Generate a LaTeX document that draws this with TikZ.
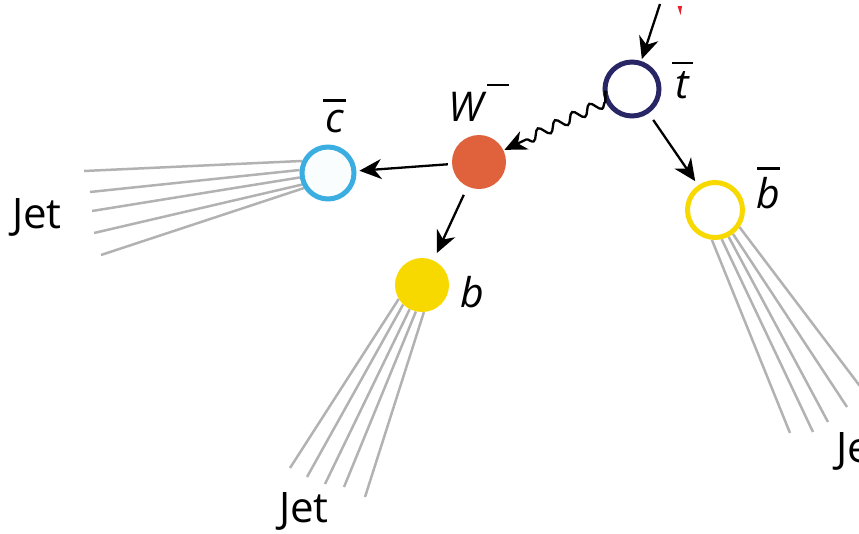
\documentclass[tikz,border=0pt]{standalone}
\usepackage{fontspec}
\setmainfont{Open Sans}
\usetikzlibrary{arrows.meta,decorations.pathmorphing}
\pgfdeclarelayer{bg}
\pgfsetlayers{bg,main}

\definecolor{tquark}{RGB}{40,38,100}
\definecolor{wboson}{RGB}{224,98,60}
\definecolor{cquark}{RGB}{58,174,224}
\definecolor{bquark}{RGB}{247,217,0}
\definecolor{jetgrey}{RGB}{178,178,178}
\definecolor{tipred}{RGB}{232,32,44}

% letter with a bar over it: #1 raise, #2 shift, #3 bar width, #4 letter
\newcommand\barred[4]{\makebox[0pt][l]{\hspace*{#2}\raisebox{#1}{\rule{#3}{2.5pt}}}#4}

\tikzset{
  ringnode/.style={circle, minimum size=#1, inner sep=0pt, line width=5pt, fill=white},
  blob/.style={circle, minimum size=#1, inner sep=0pt},
  lbl/.style={inner sep=0pt, anchor=base west, font=\fontsize{41}{44}\selectfont\itshape},
  jetlbl/.style={inner sep=0pt, anchor=base west, font=\fontsize{42}{46}\selectfont},
  tip/.style={-{Stealth[length=22pt, width=20pt, inset=7pt]}},
  arr/.style={line width=2.3pt, tip},
  wave/.style={line width=2.3pt, decorate,
    decoration={snake, amplitude=5pt, segment length=19pt, post length=16pt}, tip},
  jet/.style={draw=jetgrey, line width=2.5pt}
}

\begin{document}
\begin{tikzpicture}[x=1pt, y=-1pt]
  \useasboundingbox (0,0) rectangle (859,533);

  % particles
  \node[ringnode=54pt, draw=tquark] (tb) at (632,89) {};
  \node[blob=54pt, fill=wboson] (W) at (479,162) {};
  \node[ringnode=52pt, draw=cquark, fill=cquark!3] (cb) at (328,173) {};
  \node[blob=54pt, fill=bquark] (b) at (422,285) {};
  \node[ringnode=55pt, draw=bquark] (bb) at (715,210) {};

  % labels
  \node[lbl] (tlbl) at (675,98) {\barred{34pt}{-3pt}{21pt}{t}};
  \node[lbl] (wlbl) at (448,121) {W\hspace{4pt}\raisebox{35pt}{\rule{22pt}{2.5pt}}};
  \node[lbl] (clbl) at (325,132) {\barred{30.5pt}{-2pt}{23pt}{c}};
  \node[lbl] (blbl) at (460,307) {b};
  \node[lbl] (bblbl) at (756,208) {\barred{38.5pt}{1pt}{23pt}{b}};

  \node[jetlbl] (jet1) at (12,228) {Jet};
  \node[jetlbl] (jet2) at (279,522) {Jet};
  \node[jetlbl] (jet3) at (836,462) {Jet};

  % free ends
  \coordinate (in) at (660,4);
  \coordinate (jc1) at (84,171);
  \coordinate (jc2) at (90,192);
  \coordinate (jc3) at (92,211);
  \coordinate (jc4) at (94,233);
  \coordinate (jc5) at (101,255);
  \coordinate (jb1) at (290,468);
  \coordinate (jb2) at (307,477);
  \coordinate (jb3) at (325,484);
  \coordinate (jb4) at (344,487);
  \coordinate (jb5) at (365,497);
  \coordinate (jbb1) at (790,433);
  \coordinate (jbb2) at (813,432);
  \coordinate (jbb3) at (828,422);
  \coordinate (jbb4) at (847,407);
  \coordinate (jbb5) at (900,439);

  % decay lines
  \draw[arr, shorten >=2pt] (in) -- (tb);
  \draw[wave, shorten <=11pt, shorten >=1pt] (tb) -- (W);
  \draw[arr, shorten <=4pt, shorten >=3pt] (W) -- (cb);
  \draw[arr, shorten <=9pt, shorten >=8pt] (W) -- (b);
  \draw[arr, shorten <=8pt, shorten >=5pt] (tb) -- (bb);

  % tip of a further arrow entering from above
  \fill[tipred] (677.5,6) -- (682,6) -- (680.5,15) -- cycle;

  % jets
  \begin{pgfonlayer}{bg}
    \foreach \a/\e in {155/jc1, 174/jc2, 189/jc3, 204/jc4, 212/jc5}
      \draw[jet] (cb.\a) -- (\e);
    \foreach \a/\e in {211/jb1, 226/jb2, 243/jb3, 257/jb4, 274/jb5}
      \draw[jet] (b.\a) -- (\e);
    \foreach \a/\e in {264/jbb1, 283/jbb2, 297/jbb3, 307/jbb4, 325/jbb5}
      \draw[jet] (bb.\a) -- (\e);
  \end{pgfonlayer}
\end{tikzpicture}
\end{document}
